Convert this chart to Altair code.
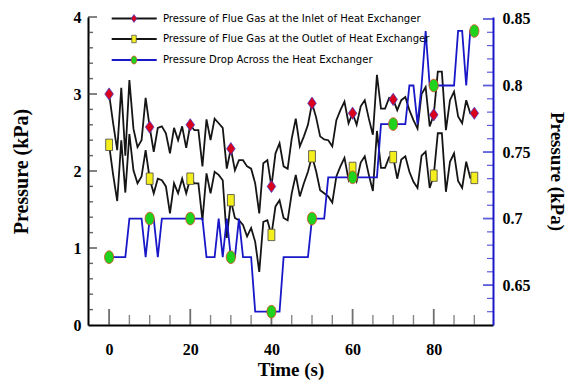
import altair as alt
import pandas as pd

# ---------------- data ----------------
time_s = list(range(0, 91))

inlet_kpa = [3.00, 2.62, 2.27, 3.08, 2.20, 3.18, 2.55, 2.31, 2.40, 2.95,
             2.57, 2.25, 2.56, 2.58, 2.49, 2.23, 2.56, 2.40, 2.58, 2.30,
             2.60, 2.53, 2.53, 2.06, 2.67, 2.40, 2.68, 2.62, 2.56, 2.03,
             2.29, 2.01, 2.14, 2.14, 2.06, 2.03, 1.84, 1.45, 2.10, 2.14,
             1.80, 2.23, 2.36, 2.06, 2.03, 2.42, 2.68, 2.32, 2.45, 2.60,
             2.88, 2.70, 2.45, 2.41, 2.40, 2.32, 2.66, 2.79, 2.90, 2.62,
             2.75, 2.60, 2.84, 2.92, 2.68, 2.47, 3.25, 2.81, 2.81, 2.95,
             2.93, 2.79, 2.92, 2.96, 2.79, 2.66, 2.55, 3.00, 3.09, 2.58,
             2.73, 3.29, 3.29, 2.53, 2.92, 3.03, 2.71, 2.62, 2.92, 2.75,
             2.75]

outlet_kpa = [2.34, 1.95, 1.61, 2.40, 1.72, 2.48, 2.01, 1.84, 1.93, 2.27,
              1.90, 1.71, 1.90, 1.88, 1.80, 1.45, 1.84, 1.71, 1.90, 1.71,
              1.90, 1.84, 1.84, 1.36, 1.97, 1.71, 1.99, 1.95, 1.88, 1.13,
              1.62, 1.39, 1.36, 1.30, 1.15, 1.26, 1.08, 0.69, 1.34, 1.36,
              1.17, 1.54, 1.62, 1.39, 1.36, 1.71, 1.95, 1.67, 1.84, 1.99,
              2.19, 2.00, 1.75, 1.71, 1.67, 1.59, 1.93, 2.06, 2.17, 1.89,
              2.04, 1.87, 2.11, 2.19, 1.95, 1.74, 2.52, 2.04, 2.04, 2.18,
              2.18, 1.90, 2.15, 2.19, 1.99, 1.86, 1.78, 2.20, 2.25, 1.78,
              1.94, 2.49, 2.49, 1.73, 2.12, 2.23, 1.87, 1.78, 2.12, 1.91,
              1.91]

drop_kpa = [0.671, 0.671, 0.671, 0.671, 0.671, 0.70, 0.70, 0.70, 0.70, 0.671,
            0.70, 0.70, 0.671, 0.70, 0.70, 0.70, 0.70, 0.70, 0.70, 0.70,
            0.70, 0.70, 0.70, 0.70, 0.671, 0.671, 0.671, 0.70, 0.671, 0.70,
            0.671, 0.671, 0.70, 0.671, 0.671, 0.671, 0.63, 0.63, 0.63, 0.63,
            0.63, 0.63, 0.63, 0.671, 0.671, 0.671, 0.671, 0.671, 0.671, 0.671,
            0.70, 0.70, 0.70, 0.70, 0.731, 0.731, 0.731, 0.731, 0.731, 0.731,
            0.731, 0.731, 0.731, 0.731, 0.731, 0.731, 0.731, 0.771, 0.771, 0.771,
            0.771, 0.771, 0.771, 0.771, 0.80, 0.80, 0.771, 0.80, 0.841, 0.80,
            0.80, 0.80, 0.80, 0.80, 0.80, 0.80, 0.841, 0.841, 0.80, 0.841,
            0.841]

x_label_values = [0, 20, 40, 60, 80]
x_minor_values = [5, 10, 15, 25, 30, 35, 45, 50, 55, 65, 70, 75, 85, 90]
left_major_values = [1, 2, 3, 4]
left_minor_values = [0.2, 0.4, 0.6, 0.8, 1.2, 1.4, 1.6, 1.8, 2.2, 2.4, 2.6, 2.8,
                     3.2, 3.4, 3.6, 3.8]
left_label_values = [0, 1, 2, 3, 4]
right_major_values = [0.65, 0.70, 0.75, 0.80, 0.85]
right_minor_values = [0.63, 0.64, 0.66, 0.67, 0.68, 0.69, 0.71, 0.72, 0.73, 0.74,
                      0.76, 0.77, 0.78, 0.79, 0.81, 0.82, 0.83, 0.84]

legend_labels = ["Pressure of Flue Gas at the Inlet of Heat Exchanger",
                 "Pressure of Flue Gas at the Outlet of Heat Exchanger",
                 "Pressure Drop Across the Heat Exchanger"]

# ---------------- styling ----------------
W, H = 405, 308
SERIF = "Liberation Serif"
NARROW = "DejaVu Sans Condensed, Liberation Sans Narrow, sans-serif"
BLUE = "#1818c8"
RED = "#d8001c"
YELLOW = "#f4ee1c"
GREEN = "#1ed21e"

DIAMOND = "M0,-1L0.7,0L0,1L-0.7,0Z"
RECT = "M-0.6,-1L0.6,-1L0.6,1L-0.6,1Z"
ELLIPSE = "M0,-1A0.72,1,0,1,1,0,1A0.72,1,0,1,1,0,-1Z"

df = pd.DataFrame({"t": time_s, "inlet": inlet_kpa, "outlet": outlet_kpa, "drop": drop_kpa})

x_scale = alt.Scale(domain=[-5.2, 94.6], nice=False, zero=False)
x_axis = alt.Axis(values=x_label_values, ticks=False, tickSize=0, grid=False,
                  domainColor="black", domainWidth=2,
                  labelFont=SERIF, labelFontWeight="bold", labelFontSize=16, labelColor="black",
                  labelPadding=16, title="Time (s)", titleFont=SERIF, titleFontWeight="bold",
                  titleFontSize=19, titleColor="black", titlePadding=3)
yl_scale = alt.Scale(domain=[0, 4], nice=False, zero=False)
yl_axis = alt.Axis(values=left_label_values, format="d", orient="left", ticks=False, tickSize=0,
                   grid=False, domainColor="black", domainWidth=2,
                   labelFont=SERIF, labelFontWeight="bold", labelFontSize=16, labelColor="black",
                   labelPadding=7, title="Pressure (kPa)", titleFont=SERIF, titleFontWeight="bold",
                   titleFontSize=20, titleColor="black", titlePadding=42)
yr_scale = alt.Scale(domain=[0.62, 0.8515], nice=False, zero=False)
yr_axis = alt.Axis(values=right_major_values, format="~g", orient="right", ticks=False, tickSize=0,
                   grid=False, domainColor=BLUE, domainWidth=2,
                   labelFont=SERIF, labelFontWeight="bold", labelFontSize=16, labelColor="black",
                   labelPadding=9, title="Pressure (kPa)", titleFont=SERIF, titleFontWeight="bold",
                   titleFontSize=19, titleColor="black", titlePadding=16)

X = alt.X("t:Q", scale=x_scale, axis=x_axis)

base = alt.Chart(df)
marks10 = base.transform_filter("datum.t % 10 == 0")

inlet_line = base.mark_line(color="#151515", strokeWidth=1.8).encode(
    x=X, y=alt.Y("inlet:Q", scale=yl_scale, axis=yl_axis))
outlet_line = base.mark_line(color="#151515", strokeWidth=1.8).encode(
    x=X, y=alt.Y("outlet:Q", scale=yl_scale, axis=yl_axis))
inlet_pts = marks10.mark_point(shape=DIAMOND, size=150, filled=True, fill=RED, stroke="#4a3cc8",
                               strokeWidth=0.8, opacity=1).encode(
    x=X, y=alt.Y("inlet:Q", scale=yl_scale, axis=yl_axis))
outlet_pts = marks10.mark_point(shape=RECT, size=130, filled=True, fill=YELLOW, stroke="#444",
                                strokeWidth=0.8, opacity=1).encode(
    x=X, y=alt.Y("outlet:Q", scale=yl_scale, axis=yl_axis))

lmaj = alt.Chart(pd.DataFrame({"v": left_major_values})).mark_tick(
    orient="horizontal", color="#222", thickness=1.6, size=9).encode(
    y=alt.Y("v:Q", scale=yl_scale, axis=yl_axis), x=alt.value(4.5))
lmin = alt.Chart(pd.DataFrame({"v": left_minor_values})).mark_tick(
    orient="horizontal", color="#222", thickness=1.4, size=5).encode(
    y=alt.Y("v:Q", scale=yl_scale, axis=yl_axis), x=alt.value(2.5))
bmaj = alt.Chart(pd.DataFrame({"t": x_label_values})).mark_tick(
    orient="vertical", color="#333", thickness=1.8, size=16).encode(x=X, y=alt.value(H - 8))
bmin = alt.Chart(pd.DataFrame({"t": x_minor_values})).mark_tick(
    orient="vertical", color="#555", thickness=1.4, size=10).encode(x=X, y=alt.value(H - 5))

left_group = alt.layer(inlet_line, outlet_line, lmaj, lmin, bmaj, bmin, inlet_pts, outlet_pts)

drop_line = base.mark_line(color=BLUE, strokeWidth=1.8).encode(
    x=X, y=alt.Y("drop:Q", scale=yr_scale, axis=yr_axis))
drop_pts = marks10.mark_point(shape=ELLIPSE, size=160, filled=True, fill=GREEN, stroke="#e04020",
                              strokeWidth=0.8, opacity=1).encode(
    x=X, y=alt.Y("drop:Q", scale=yr_scale, axis=yr_axis))
rmaj = alt.Chart(pd.DataFrame({"drop": right_major_values})).mark_tick(
    orient="horizontal", color=BLUE, thickness=1.8, size=10).encode(
    y=alt.Y("drop:Q", scale=yr_scale, axis=yr_axis), x=alt.value(W - 5))
rmin = alt.Chart(pd.DataFrame({"drop": right_minor_values})).mark_tick(
    orient="horizontal", color=BLUE, thickness=1.2, size=6).encode(
    y=alt.Y("drop:Q", scale=yr_scale, axis=yr_axis), x=alt.value(W - 3))

right_group = alt.layer(drop_line, rmaj, rmin, drop_pts)

# ---------------- legend ----------------
legend_rows = [(1.5, "#151515", DIAMOND, 64, RED, "#4a3cc8"),
               (22, "#151515", RECT, 56, YELLOW, "#444"),
               (43, BLUE, ELLIPSE, 64, GREEN, "#e04020")]
legend_layers = []
for lab, (ry, lc, shp, sz, fc, sc) in zip(legend_labels, legend_rows):
    ldf = pd.DataFrame({"label": [lab]})
    legend_layers.append(alt.Chart(ldf).mark_rule(color=lc, strokeWidth=1.8).encode(
        x=alt.value(23.7), x2=alt.value(68.7), y=alt.value(ry)))
    legend_layers.append(alt.Chart(ldf).mark_point(shape=shp, size=sz, filled=True, fill=fc,
                                                   stroke=sc, strokeWidth=0.7, opacity=1).encode(
        x=alt.value(46), y=alt.value(ry)))
    legend_layers.append(alt.Chart(ldf).mark_text(align="left", baseline="middle", font=NARROW,
                                                  fontSize=11.2, color="black").encode(
        x=alt.value(75), y=alt.value(ry), text="label:N"))

chart = alt.layer(left_group, right_group, *legend_layers).resolve_scale(
    y="independent").properties(
    width=W, height=H,
    padding={"left": 80, "top": 9, "right": 76, "bottom": 58},
    autosize=alt.AutoSizeParams(type="none"),
    background="white",
).configure_view(stroke=None)

chart.save("out.html", embed_options={"renderer": "svg", "actions": False})
